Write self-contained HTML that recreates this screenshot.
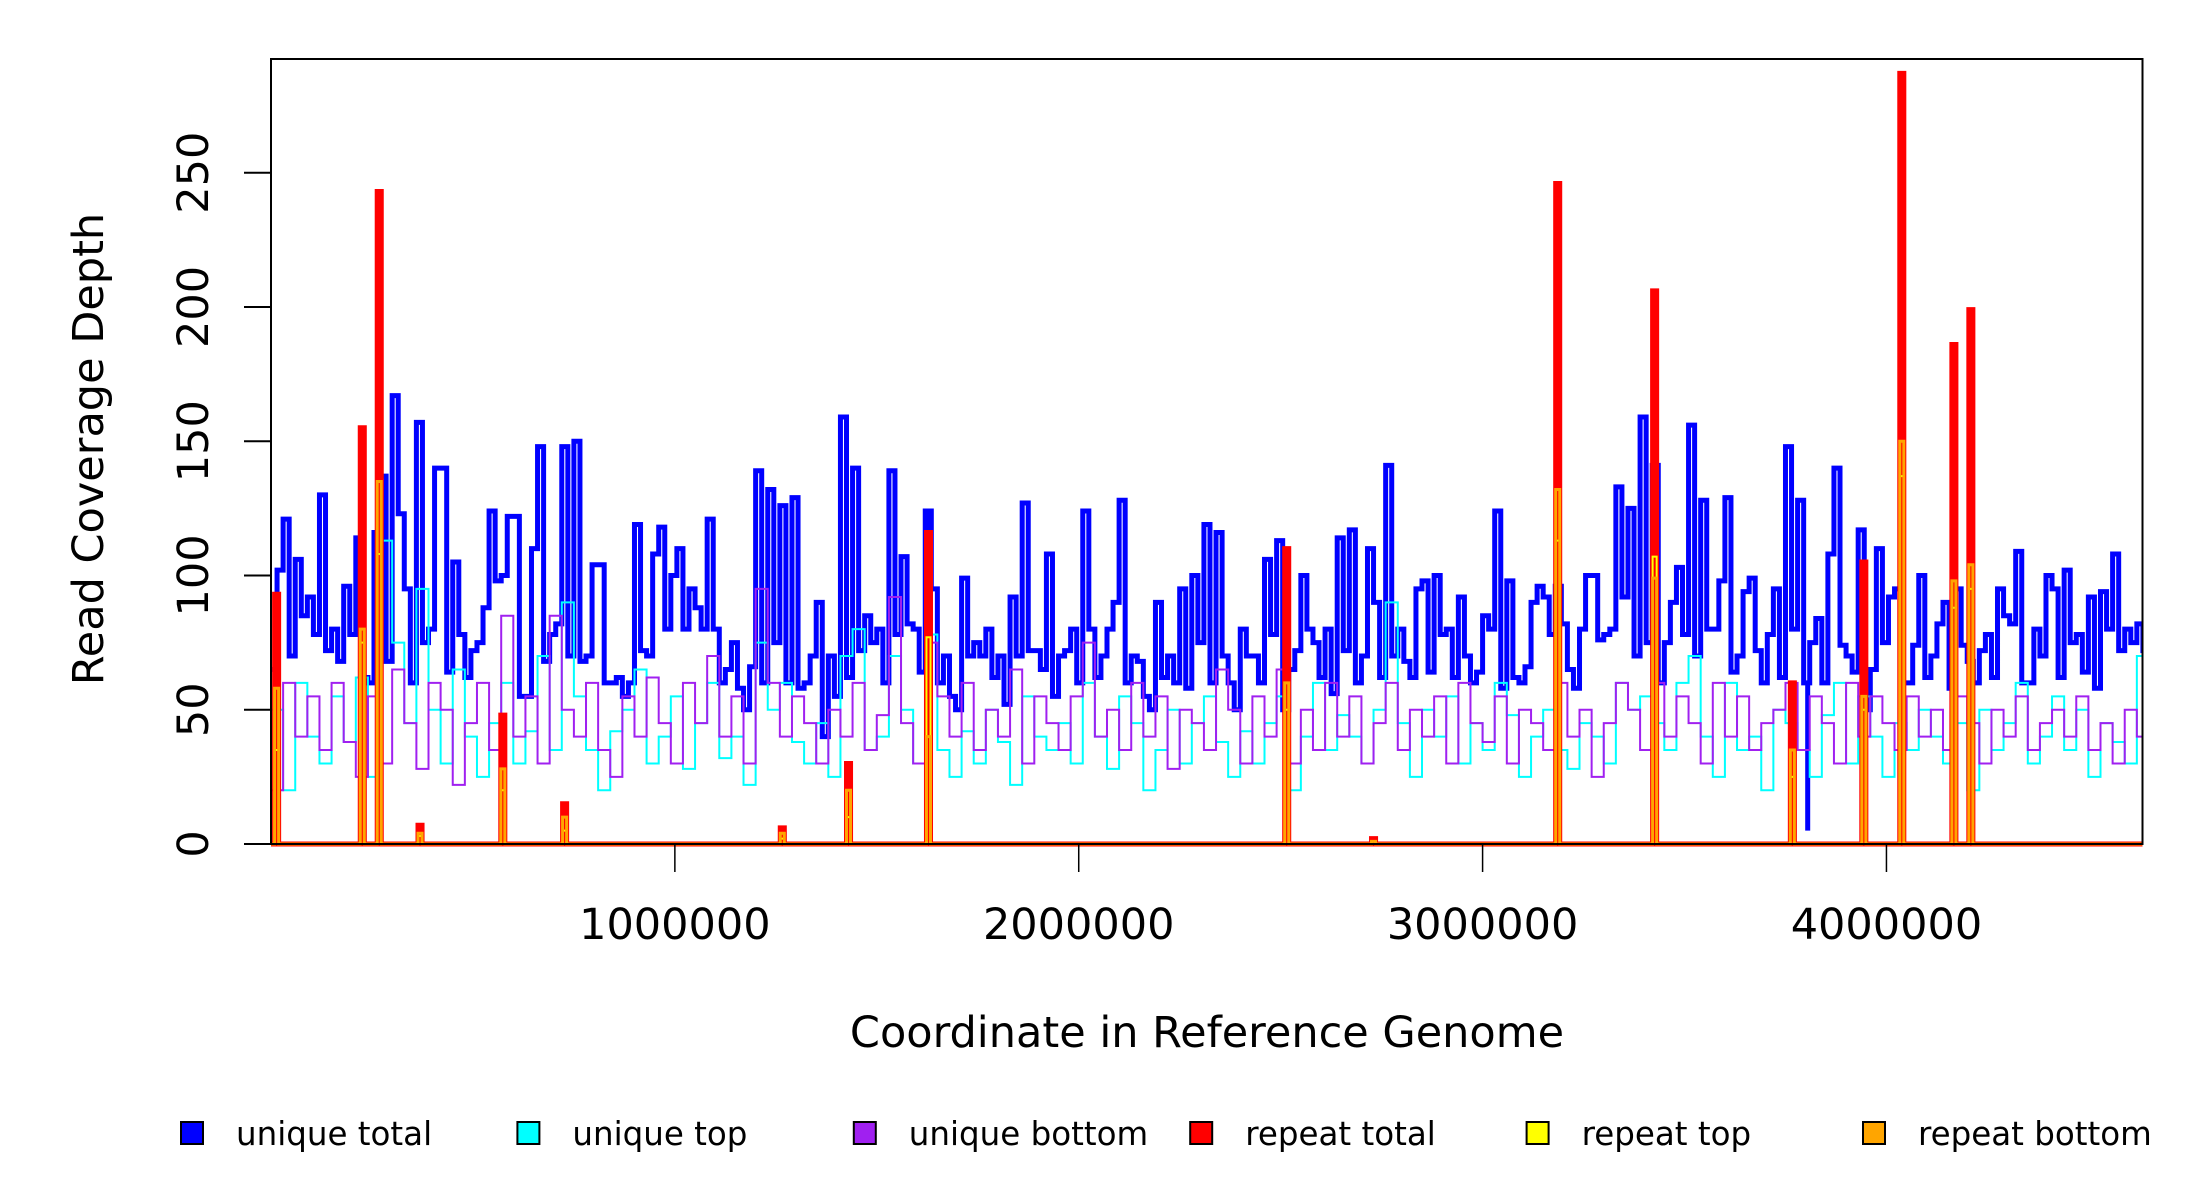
<!DOCTYPE html>
<html><head><meta charset="utf-8"><style>
html,body{margin:0;padding:0;background:#fff;}
svg{display:block;font-family:"DejaVu Sans","Liberation Sans",sans-serif;}
</style></head><body>
<svg id="chart" width="2200" height="1200" viewBox="0 0 2200 1200">
<defs><clipPath id="clip"><rect x="271" y="59" width="1872" height="788"/></clipPath></defs>
<g id="marks" clip-path="url(#clip)"></g>
<rect x="271" y="59" width="1871.5" height="785" fill="none" stroke="#000" stroke-width="2"/>
<g id="axes"></g>
<text x="1207" y="1047" font-size="43" text-anchor="middle">Coordinate in Reference Genome</text>
<text transform="translate(103,449) rotate(-90)" font-size="43" text-anchor="middle">Read Coverage Depth</text>
<g id="legend"></g>
</svg>
<script>
const totalBinSize = 15000;
const strandBinSize = 30000;
const uniqueTotal = [65,102,121,70,106,85,92,78,130,72,80,68,96,78,114,62,60,116,137,68,167,123,95,60,157,75,80,140,140,64,105,78,62,72,75,88,124,98,100,122,122,55,55,110,148,68,78,82,148,70,150,68,70,104,104,60,60,62,55,60,119,72,70,108,118,80,100,110,80,95,88,80,121,80,60,65,75,58,50,66,139,60,132,75,126,60,129,58,60,70,90,40,70,55,159,62,140,72,85,75,80,60,139,78,107,82,80,64,124,95,60,70,55,50,99,70,75,70,80,62,70,52,92,70,127,72,72,65,108,55,70,72,80,60,124,80,62,70,80,90,128,60,70,68,55,50,90,62,70,60,95,58,100,75,119,60,116,70,60,50,80,70,70,60,106,78,113,50,65,72,100,80,75,62,80,56,114,72,117,60,70,110,90,62,141,70,80,68,62,95,98,64,100,78,80,62,92,70,60,64,85,80,124,58,98,62,60,66,90,96,92,78,96,82,65,58,80,100,100,76,78,80,133,92,125,70,159,75,141,60,75,90,103,78,156,70,128,80,80,98,129,64,70,94,99,72,60,78,95,62,148,80,128,60,75,84,60,108,140,74,70,64,117,50,65,110,75,92,95,60,60,74,100,62,70,82,90,58,95,74,68,60,72,78,62,95,85,82,109,60,60,80,70,100,95,62,102,75,78,64,92,58,94,80,108,72,80,75,82,72];
const uniqueTop = [50,20,60,40,30,55,38,62,25,113,75,45,95,50,30,65,40,25,45,60,30,42,70,35,90,55,35,20,42,50,65,30,40,55,28,45,60,32,40,22,75,50,60,38,30,45,25,70,80,35,40,70,50,30,78,35,25,42,30,50,38,22,55,40,35,45,30,60,40,28,55,45,20,35,50,30,45,55,38,25,42,30,45,55,20,40,60,35,48,40,30,50,90,45,25,50,40,55,30,45,35,60,48,25,40,50,35,28,45,40,30,60,50,55,45,35,60,70,40,25,60,35,40,20,50,45,35,25,48,60,30,55,40,25,45,35,50,40,30,45,20,50,35,45,60,30,40,55,35,50,25,45,38,30,70];
const uniqueBottom = [20,60,40,55,35,60,38,25,55,30,65,45,28,60,50,22,45,60,35,85,40,55,30,85,50,40,60,35,25,55,40,62,45,30,60,45,70,40,55,30,95,60,40,55,45,30,50,40,60,35,48,92,45,30,75,55,40,60,35,50,40,65,30,55,45,35,55,75,40,50,35,60,40,55,28,50,45,35,65,50,30,55,40,65,30,50,35,60,40,55,30,45,60,35,50,40,55,30,60,45,38,55,30,50,45,35,60,40,50,25,45,60,50,35,60,40,55,45,30,60,40,55,35,45,50,60,35,55,45,30,60,40,55,45,35,55,40,50,35,55,45,30,50,40,55,35,45,50,40,55,35,45,30,50,40];
const repeatCoord = [13900,226000,268000,369000,574000,727000,1266000,1430000,1628000,2515000,2730000,3186000,3426000,3767000,3944000,4038000,4167000,4209000];
const repeatTotal = [93,155,243,7,48,15,6,30,116,110,2,246,206,60,105,287,186,199];
const repeatTop = [35,75,108,3,20,5,2,10,77,50,1,113,107,25,50,137,88,95];
const repeatBottom = [58,80,135,4,28,10,4,20,40,60,1,132,99,35,55,150,98,104];
const dropoutCoord = [226000,268000,1628000,2515000,3186000,3426000,3805000,4038000,4167000,4209000];
const dropoutValue = [0,0,0,0,0,0,5,0,0,0];
const xTicks = [1000000,2000000,3000000,4000000];
const yTicks = [0,50,100,150,200,250];
const legendLabels = ["unique total","unique top","unique bottom","repeat total","repeat top","repeat bottom"];
const legendColors = ["#0000ff","#00ffff","#a020f0","#ff0000","#ffff00","#ffa500"];

const NS = "http://www.w3.org/2000/svg";
const X0 = 271, X1 = 2142.5, XMAX = 4634000, Y0 = 844, YPU = (844-172.7)/250;
function xs(v){ return X0 + v/XMAX*(X1-X0); }
function ys(v){ return Y0 - v*YPU; }
function mk(tag, attrs, parent){ const e=document.createElementNS(NS,tag); for(const k in attrs) e.setAttribute(k,attrs[k]); parent.appendChild(e); return e; }
const marks = document.getElementById('marks');
const axes = document.getElementById('axes');
const legend = document.getElementById('legend');

function stepPath(vals, bs){
  let d = "M" + xs(0) + "," + ys(vals[0]);
  for(let i=0;i<vals.length;i++){
    const xa = xs(i*bs), xb = xs((i+1)*bs);
    d += " L" + xa + "," + ys(vals[i]) + " L" + xb + "," + ys(vals[i]);
  }
  return d;
}
function spikePath(coords, vals){
  let d = "M" + xs(0) + "," + ys(0);
  for(let i=0;i<coords.length;i++){
    const xa = xs(coords[i]-5000), xb = xs(coords[i]+5000);
    d += " L" + xa + "," + ys(0) + " L" + xa + "," + ys(vals[i]) + " L" + xb + "," + ys(vals[i]) + " L" + xb + "," + ys(0);
  }
  d += " L" + xs(XMAX) + "," + ys(0);
  return d;
}
let p;
p = mk('path',{d:stepPath(uniqueTotal,totalBinSize),fill:'none',stroke:'#0000ff','stroke-width':5},marks);


for(let i=0;i<dropoutCoord.length;i++){
  const bin = Math.floor(dropoutCoord[i]/totalBinSize);
  const l = mk('line',{x1:xs(dropoutCoord[i]),x2:xs(dropoutCoord[i]),y1:ys(dropoutValue[i]),y2:ys(uniqueTotal[bin]),stroke:'#0000ff','stroke-width':5},marks);
  
  
}
p = mk('path',{d:stepPath(uniqueTop,strandBinSize),fill:'none',stroke:'#00ffff','stroke-width':2},marks);


p = mk('path',{d:stepPath(uniqueBottom,strandBinSize),fill:'none',stroke:'#a020f0','stroke-width':2},marks);


p = mk('path',{d:spikePath(repeatCoord,repeatTotal),fill:'none',stroke:'#ff0000','stroke-width':5},marks);


p = mk('path',{d:spikePath(repeatCoord,repeatTop),fill:'none',stroke:'#ffff00','stroke-width':2},marks);


p = mk('path',{d:spikePath(repeatCoord,repeatBottom),fill:'none',stroke:'#ffa500','stroke-width':3},marks);



for(const t of xTicks){
  const x = xs(t);
  const l = mk('line',{x1:x,x2:x,y1:844,y2:872,stroke:'#000','stroke-width':1.5},axes);
  
  
  const tx = mk('text',{x:x,y:939,'font-size':43,'text-anchor':'middle'},axes);
  tx.textContent = String(t);
  
  
}
for(const t of yTicks){
  const y = ys(t);
  const l = mk('line',{x1:244,x2:271,y1:y,y2:y,stroke:'#000','stroke-width':2},axes);
  
  
  const tx = mk('text',{transform:'translate(208,'+y+') rotate(-90)','font-size':43,'text-anchor':'middle'},axes);
  tx.textContent = String(t);
  
  
}
for(let i=0;i<legendLabels.length;i++){
  const cx = 192 + i*336.4;
  const r = mk('rect',{x:cx-11,y:1122,width:22,height:22,fill:legendColors[i],stroke:'#000','stroke-width':2},legend);
  
  
  const tx = mk('text',{x:cx+44,y:1145,'font-size':32.5},legend);
  tx.textContent = legendLabels[i];
  
  
}
</script>
</body></html>
